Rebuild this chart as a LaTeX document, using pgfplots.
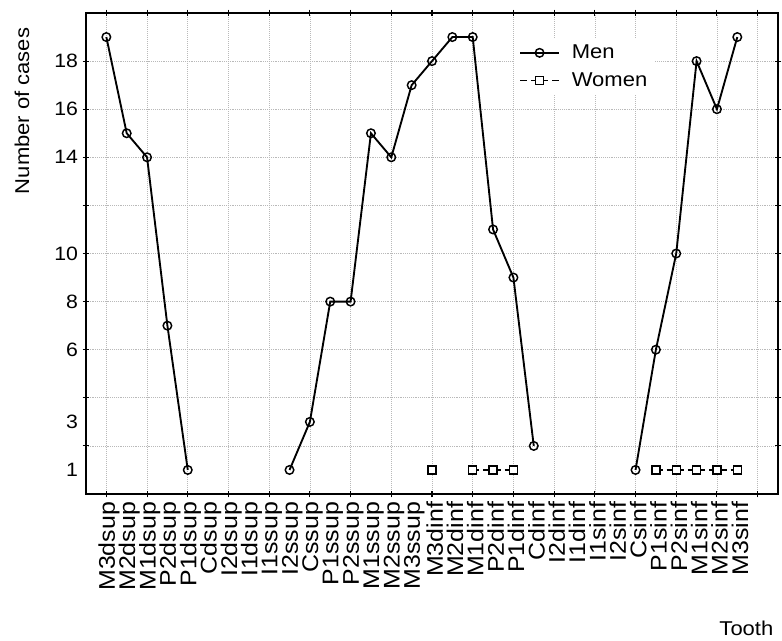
\documentclass[border=0pt]{standalone}
\usepackage{pgfplots}
\pgfplotsset{compat=1.18}
\usepackage{fontspec}
\setmainfont{Liberation Sans}[FakeStretch=1.1]

\newcommand{\lblfont}{\fontsize{15}{18}\selectfont}
\newcommand{\xtickfont}{\fontsize{17}{20}\selectfont}
\newcommand{\tickfont}{\fontsize{14.5}{17}\selectfont}

\begin{document}
\begin{tikzpicture}
\begin{axis}[
    scale only axis,
    width=519pt, height=360.75pt,
    xmin=-1, xmax=33, ymin=0, ymax=20,
    axis line style={line width=1.3pt},
    /pgf/number format/assume math mode=true,
    tick align=center,
    major tick length=5pt,
    minor tick length=5pt,
    tick style={black, line width=0.8pt},
    grid style={densely dotted, gray!55, line width=0.5pt},
    minor grid style={densely dotted, gray!55, line width=0.5pt},
    % x: one label per tooth, grid and tick marks every two teeth
    xtick={0,...,31},
    xticklabels={M3dsup,M2dsup,M1dsup,P2dsup,P1dsup,Cdsup,I2dsup,I1dsup,
        I1ssup,I2ssup,Cssup,P1ssup,P2ssup,M1ssup,M2ssup,M3ssup,
        M3dinf,M2dinf,M1dinf,P2dinf,P1dinf,Cdinf,I2dinf,I1dinf,
        I1sinf,I2sinf,Csinf,P1sinf,P2sinf,M1sinf,M2sinf,M3sinf},
    major x tick style={draw=none},
    minor xtick={0,2,...,32},
    xminorgrids=true,
    xticklabel style={rotate=90, anchor=east, font=\xtickfont, yshift=-2pt},
    % y: grid every 2, odd labels 1 and 3 as extra ticks
    ytick={2,4,...,18},
    yticklabels={,,6,8,10,,14,16,18},
    ymajorgrids=true,
    extra y ticks={1,3},
    extra y tick style={grid=none, tick style={draw=none}},
    yticklabel style={font=\tickfont},
    xlabel={Tooth},
    xlabel style={at={(axis description cs:1,-0.279)}, anchor=east, font=\lblfont},
    ylabel={Number of cases},
    ylabel style={at={(axis description cs:-0.0925,0.979)}, anchor=east, font=\lblfont},
    unbounded coords=jump,
    legend style={at={(axis description cs:0.62,0.948)}, anchor=north west,
        draw=none, fill=white, font=\lblfont,
        row sep=5pt, column sep=7pt, inner xsep=3pt, inner ysep=3pt},
    legend cell align=left,
    legend image code/.code={\draw[mark repeat=2, mark phase=2, #1]
        plot coordinates {(0pt,0pt) (14.5pt,0pt) (29pt,0pt)};},
]
\addplot[black, line width=1.4pt, mark=o, mark size=3.2pt,
    mark options={solid, fill=white, line width=1.1pt}]
coordinates {
    (0,19) (1,15) (2,14) (3,7) (4,1) (5,nan) (6,nan) (7,nan) (8,nan)
    (9,1) (10,3) (11,8) (12,8) (13,15) (14,14) (15,17)
    (16,18) (17,19) (18,19) (19,11) (20,9) (21,2)
    (22,nan) (23,nan) (24,nan) (25,nan)
    (26,1) (27,6) (28,10) (29,18) (30,16) (31,19)
};
\addlegendentry{Men}
\addplot[black, line width=1.2pt, dash pattern=on 5pt off 3pt,
    mark=square*, mark size=3pt,
    mark options={solid, fill=white, line width=1.1pt}]
coordinates {
    (16,1) (17,nan) (18,1) (19,1) (20,1)
    (21,nan) (22,nan) (23,nan) (24,nan) (25,nan) (26,nan)
    (27,1) (28,1) (29,1) (30,1) (31,1)
};
\addlegendentry{Women}
\end{axis}
\path ([shift={(-64.5pt,-108.75pt)}]current axis.south west)
    rectangle ([shift={(3pt,9.75pt)}]current axis.north east);
\end{tikzpicture}
\end{document}
